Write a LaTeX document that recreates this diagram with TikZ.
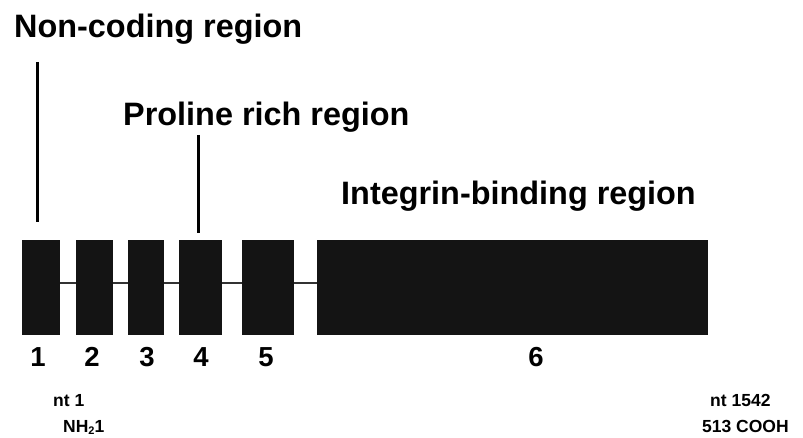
\documentclass[tikz,border=0pt]{standalone}
\usepackage{fontspec}
\setmainfont{Liberation Sans}
\begin{document}
\begin{tikzpicture}[x=1pt,y=-1pt,
  exon/.style={draw=none,fill=black!92,inner sep=0pt,minimum height=95pt,anchor=north west},
  title/.style={font=\fontsize{32.4}{36}\selectfont\bfseries,inner sep=0pt,anchor=base west},
  num/.style={font=\fontsize{27.5}{30}\selectfont\bfseries,inner sep=0pt,anchor=base},
  small/.style={font=\fontsize{17.5}{20}\selectfont\bfseries,inner sep=0pt,anchor=base west},
  intron/.style={draw=black!80,line width=2pt},
  pointer/.style={draw=black,line width=3pt}]
\useasboundingbox (0,0) rectangle (803,438);
% exons
\node[exon,minimum width=38pt] (e1) at (22,240) {};
\node[exon,minimum width=37pt] (e2) at (76,240) {};
\node[exon,minimum width=36pt] (e3) at (128,240) {};
\node[exon,minimum width=43pt] (e4) at (179,240) {};
\node[exon,minimum width=52pt] (e5) at (242,240) {};
\node[exon,minimum width=391pt] (e6) at (317,240) {};
% introns
\draw[intron] ([yshift=4.5pt]e1.east) -- ([yshift=4.5pt]e2.west);
\draw[intron] ([yshift=4.5pt]e2.east) -- ([yshift=4.5pt]e3.west);
\draw[intron] ([yshift=4.5pt]e3.east) -- ([yshift=4.5pt]e4.west);
\draw[intron] ([yshift=4.5pt]e4.east) -- ([yshift=4.5pt]e5.west);
\draw[intron] ([yshift=4.5pt]e5.east) -- ([yshift=4.5pt]e6.west);
% titles
\node[title] (nc) at (14,38) {Non-coding region};
\node[title] (pr) at (123,126) {Proline rich region};
\node[title] (ib) at (341,205) {Integrin-binding region};
\coordinate (nctop) at (37,62);
\coordinate (ncbot) at (37,222);
\coordinate (prtop) at (198,135);
\coordinate (prbot) at (198,233);
\draw[pointer] (nctop) -- (ncbot);
\draw[pointer] (prtop) -- (prbot);
% numbers
\node[num] (n1) at (38,366) {1};
\node[num] (n2) at (92,366) {2};
\node[num] (n3) at (147,366) {3};
\node[num] (n4) at (201,366) {4};
\node[num] (n5) at (266,366) {5};
\node[num] (n6) at (536,366) {6};
% bottom labels
\node[small] (nt1) at (53,406) {nt 1};
\node[small] (nh) at (63,432) {NH\raisebox{-0.3ex}{\fontsize{11}{12}\selectfont 2}1};
\node[small] (nt2) at (710,406) {nt 1542};
\node[small] (cooh) at (702,432) {513 COOH};
\end{tikzpicture}
\end{document}
